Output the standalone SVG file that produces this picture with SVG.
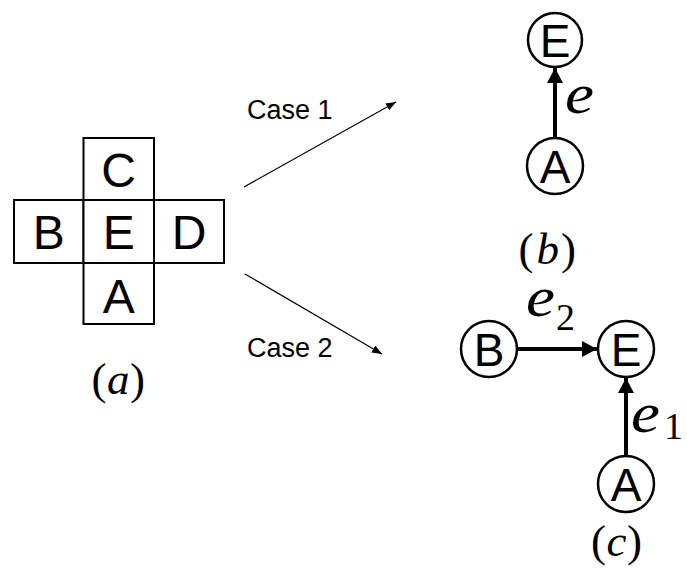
<svg xmlns="http://www.w3.org/2000/svg" width="687" height="569" viewBox="0 0 687 569">
  <style>
    .cell { fill: #ffffff; stroke: #000000; stroke-width: 2; }
    .node { fill: #ffffff; stroke: #000000; stroke-width: 2.5; }
    .glyph { font-family: "Liberation Sans", Arial, sans-serif; font-size: 48px; fill: #000000; text-anchor: middle; }
    .nglyph { font-family: "Liberation Sans", Arial, sans-serif; font-size: 46px; fill: #000000; text-anchor: middle; }
    .case { font-family: "Liberation Sans", Arial, sans-serif; font-size: 27px; fill: #000000; }
    .cap { font-family: "Liberation Serif", "Times New Roman", serif; font-size: 45px; fill: #000000; }
    .it { font-style: italic; }
    .edge { font-family: "Liberation Serif", "Times New Roman", serif; font-style: italic; font-size: 58px; fill: #000000; }
    .sub { font-family: "Liberation Serif", "Times New Roman", serif; font-size: 38px; fill: #000000; }
    .thin { stroke: #000000; stroke-width: 1.2; fill: none; }
    .bold { stroke: #000000; stroke-width: 4; fill: none; }
  </style>
  <defs>
    <marker id="small-head" markerUnits="userSpaceOnUse" markerWidth="12" markerHeight="10" refX="10" refY="4" orient="auto">
      <path d="M0,0 L10,4 L0,8 Z" fill="#000000"/>
    </marker>
    <marker id="big-head" markerUnits="userSpaceOnUse" markerWidth="18" markerHeight="18" refX="15" refY="8" orient="auto">
      <path d="M0,0 L15,8 L0,16 Z" fill="#000000"/>
    </marker>
  </defs>

  <!-- cross-shaped grid of cells -->
  <g id="cell-C"><rect class="cell" x="83.5" y="138" width="70.5" height="62"/><text class="glyph" x="118.7" y="187">C</text></g>
  <g id="cell-B"><rect class="cell" x="14" y="200" width="69.5" height="63"/><text class="glyph" x="48.7" y="249">B</text></g>
  <g id="cell-E"><rect class="cell" x="83.5" y="200" width="70.5" height="63"/><text class="glyph" x="118.7" y="249">E</text></g>
  <g id="cell-D"><rect class="cell" x="154" y="200" width="70" height="63"/><text class="glyph" x="189" y="249">D</text></g>
  <g id="cell-A"><rect class="cell" x="83.5" y="263" width="70.5" height="61"/><text class="glyph" x="118.7" y="312.5">A</text></g>
  <g id="label-a">
    <text class="cap" x="91.5" y="394">(</text>
    <text class="cap it" x="107" y="394">a</text>
    <text class="cap" x="130" y="394">)</text>
  </g>

  <!-- case labels -->
  <g id="case-1"><text class="case" x="247" y="119">Case 1</text></g>
  <g id="case-2"><text class="case" x="247" y="357">Case 2</text></g>

  <!-- graph (b) -->
  <g id="b-E"><circle class="node" cx="555" cy="40" r="27"/><text class="nglyph" x="555" y="56.5">E</text></g>
  <g id="b-A"><circle class="node" cx="555" cy="166" r="28"/><text class="nglyph" x="555" y="182.5">A</text></g>
  <g id="b-e"><text class="edge" x="565" y="113" textLength="29" lengthAdjust="spacingAndGlyphs">e</text></g>
  <g id="label-b">
    <text class="cap" x="518.5" y="264">(</text>
    <text class="cap it" x="536.5" y="264">b</text>
    <text class="cap" x="561" y="264">)</text>
  </g>

  <!-- graph (c) -->
  <g id="c-B"><circle class="node" cx="489" cy="349" r="28"/><text class="nglyph" x="489" y="365.5">B</text></g>
  <g id="c-E"><circle class="node" cx="626" cy="349" r="28"/><text class="nglyph" x="626" y="365.5">E</text></g>
  <g id="c-A"><circle class="node" cx="626" cy="484" r="28"/><text class="nglyph" x="626" y="500.5">A</text></g>
  <g id="c-e2">
    <text class="edge" x="526" y="316" textLength="29" lengthAdjust="spacingAndGlyphs">e</text>
    <text class="sub" x="556" y="330">2</text>
  </g>
  <g id="c-e1">
    <text class="edge" x="631" y="432" textLength="29" lengthAdjust="spacingAndGlyphs">e</text>
    <text class="sub" x="664" y="439">1</text>
  </g>
  <g id="label-c">
    <text class="cap" x="591" y="556">(</text>
    <text class="cap it" x="606.5" y="556">c</text>
    <text class="cap" x="627" y="556">)</text>
  </g>

  <!-- connectors -->
  <g id="connectors">
    <line class="thin" x1="244" y1="187" x2="396" y2="102" marker-end="url(#small-head)"/>
    <line class="thin" x1="245" y1="274" x2="382" y2="354" marker-end="url(#small-head)"/>
    <line class="bold" x1="555" y1="138" x2="555" y2="68" marker-end="url(#big-head)"/>
    <line class="bold" x1="517" y1="349" x2="597" y2="349" marker-end="url(#big-head)"/>
    <line class="bold" x1="626" y1="456" x2="626" y2="378" marker-end="url(#big-head)"/>
  </g>
</svg>
